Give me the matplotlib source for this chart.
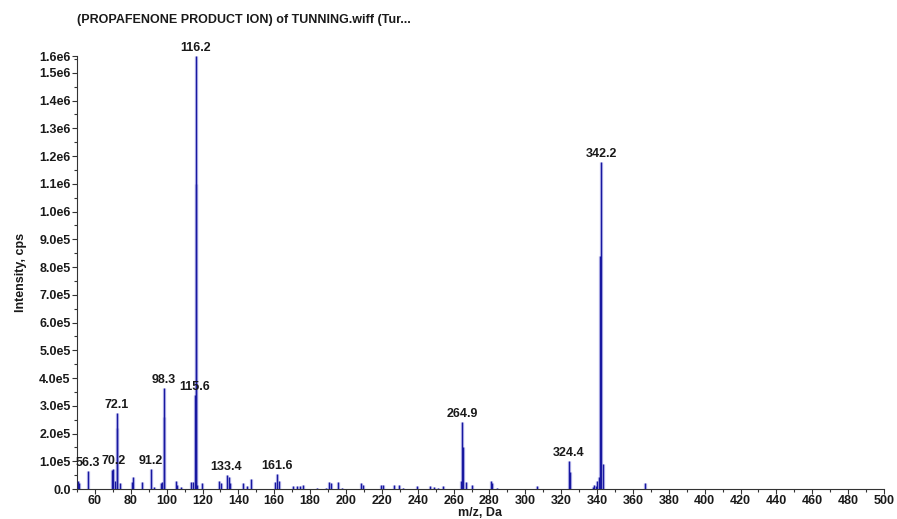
import matplotlib
matplotlib.use("Agg")
import matplotlib.pyplot as plt
from matplotlib.ticker import FuncFormatter, MultipleLocator, FixedLocator
import numpy as np

plt.rcParams['font.family'] = ['Liberation Sans', 'DejaVu Sans']

# ========== spectrum data (m/z, intensity in cps) ==========
mz = [50.3, 51.0, 56.3, 69.8, 70.2, 71.2, 72.1, 72.5, 73.8, 80.6, 81.2, 86.3,
      91.2, 93.0, 96.6, 97.5, 98.3, 98.6, 105.2, 106.0, 108.0, 113.8, 114.5,
      115.6, 116.2, 116.6, 117.2, 119.5, 129.2, 130.5, 133.4, 134.5, 135.5,
      142.5, 145.0, 147.0, 160.5, 161.6, 162.4, 170.5, 172.5, 174.5, 176.0,
      184.0, 189.0, 190.5, 191.5, 195.5, 198.0, 208.5, 209.5, 219.5, 220.5,
      227.0, 229.5, 232.0, 239.6, 247.0, 249.0, 251.5, 254.0, 264.2, 264.9,
      265.4, 267.0, 270.5, 281.0, 281.6, 284.0, 306.4, 324.4, 324.9, 337.6,
      338.5, 339.2, 340.2, 341.0, 341.9, 342.2, 343.1, 366.8]
intensity = [0.30e5, 0.20e5, 0.65e5, 0.70e5, 0.72e5, 0.30e5, 2.74e5, 2.20e5,
             0.20e5, 0.25e5, 0.45e5, 0.25e5, 0.72e5, 0.08e5, 0.20e5, 0.25e5,
             3.65e5, 2.60e5, 0.30e5, 0.15e5, 0.08e5, 0.25e5, 0.25e5, 3.40e5,
             1.56e6, 1.10e6, 0.15e5, 0.20e5, 0.30e5, 0.20e5, 0.50e5, 0.45e5,
             0.20e5, 0.20e5, 0.10e5, 0.35e5, 0.25e5, 0.55e5, 0.30e5, 0.10e5,
             0.10e5, 0.10e5, 0.15e5, 0.05e5, 0.05e5, 0.25e5, 0.20e5, 0.25e5,
             0.05e5, 0.20e5, 0.15e5, 0.15e5, 0.15e5, 0.15e5, 0.15e5, 0.05e5,
             0.10e5, 0.12e5, 0.08e5, 0.05e5, 0.10e5, 0.30e5, 2.42e5, 1.50e5,
             0.25e5, 0.15e5, 0.30e5, 0.20e5, 0.05e5, 0.10e5, 1.00e5, 0.60e5,
             0.08e5, 0.15e5, 0.10e5, 0.30e5, 0.45e5, 8.40e5, 1.177e6, 0.90e5,
             0.20e5]

# labelled peaks
label_mz = [56.3, 70.2, 72.1, 91.2, 98.3, 115.6, 116.2, 133.4, 161.6, 264.9, 324.4, 342.2]
label_int = [0.65e5, 0.72e5, 2.74e5, 0.72e5, 3.65e5, 3.40e5, 1.56e6, 0.50e5, 0.55e5, 2.42e5, 1.00e5, 1.177e6]
label_txt = ["56.3", "70.2", "72.1", "91.2", "98.3", "115.6", "116.2", "133.4", "161.6", "264.9", "324.4", "342.2"]

title = "(PROPAFENONE PRODUCT ION) of TUNNING.wiff (Tur..."

fig = plt.figure(figsize=(8.97, 5.19), dpi=100)
ax = fig.add_axes([0.0858, 0.0578, 0.8997, 0.834])

# profile-like sticks: light halo + dark line
ax.vlines(mz, 0, intensity, colors='#c4c4f0', linewidth=2.4, zorder=2)
ax.vlines(mz, 0, intensity, colors='#1818a0', linewidth=1.0, zorder=3)

for x, y, t in zip(label_mz, label_int, label_txt):
    ax.annotate(t, (x, y), xytext=(0, 1.5), textcoords='offset points',
                ha='center', va='bottom', fontsize=9, fontweight='bold', color='#1a1a1a')

ymax = max(intensity)
ax.set_xlim(50, 500)
ax.set_ylim(0, ymax)

def yfmt(v, pos):
    if v == 0:
        return "0.0"
    m, e = ("%.1e" % v).split("e")
    return "%se%d" % (m, int(e))

ax.yaxis.set_major_locator(FixedLocator(list(np.arange(0, 1.55e6, 1e5)) + [ymax]))
ax.yaxis.set_minor_locator(MultipleLocator(0.5e5))
ax.yaxis.set_major_formatter(FuncFormatter(yfmt))
ax.xaxis.set_major_locator(FixedLocator(np.arange(60, 501, 20)))
ax.xaxis.set_minor_locator(MultipleLocator(10))

ax.tick_params(axis='both', which='major', labelsize=9, length=3.5, width=0.8,
               colors='#333333', labelcolor='#1a1a1a', pad=1)
ax.tick_params(axis='both', which='minor', length=2, width=0.8, colors='#333333')
for lab in ax.get_xticklabels() + ax.get_yticklabels():
    lab.set_fontweight('bold')

for s in ['top', 'right']:
    ax.spines[s].set_visible(False)
for s in ['left', 'bottom']:
    ax.spines[s].set_color('#333333')
    ax.spines[s].set_linewidth(0.8)

ax.set_xlabel("m/z, Da", fontsize=9, fontweight='bold', color='#1a1a1a', labelpad=0)
ax.set_ylabel("Intensity, cps", fontsize=9, fontweight='bold', color='#1a1a1a', labelpad=9)
fig.text(0.0858, 0.962, title, fontsize=9, fontweight='bold', color='#1a1a1a',
         ha='left', va='center')

fig.savefig("out.png", dpi=100)
